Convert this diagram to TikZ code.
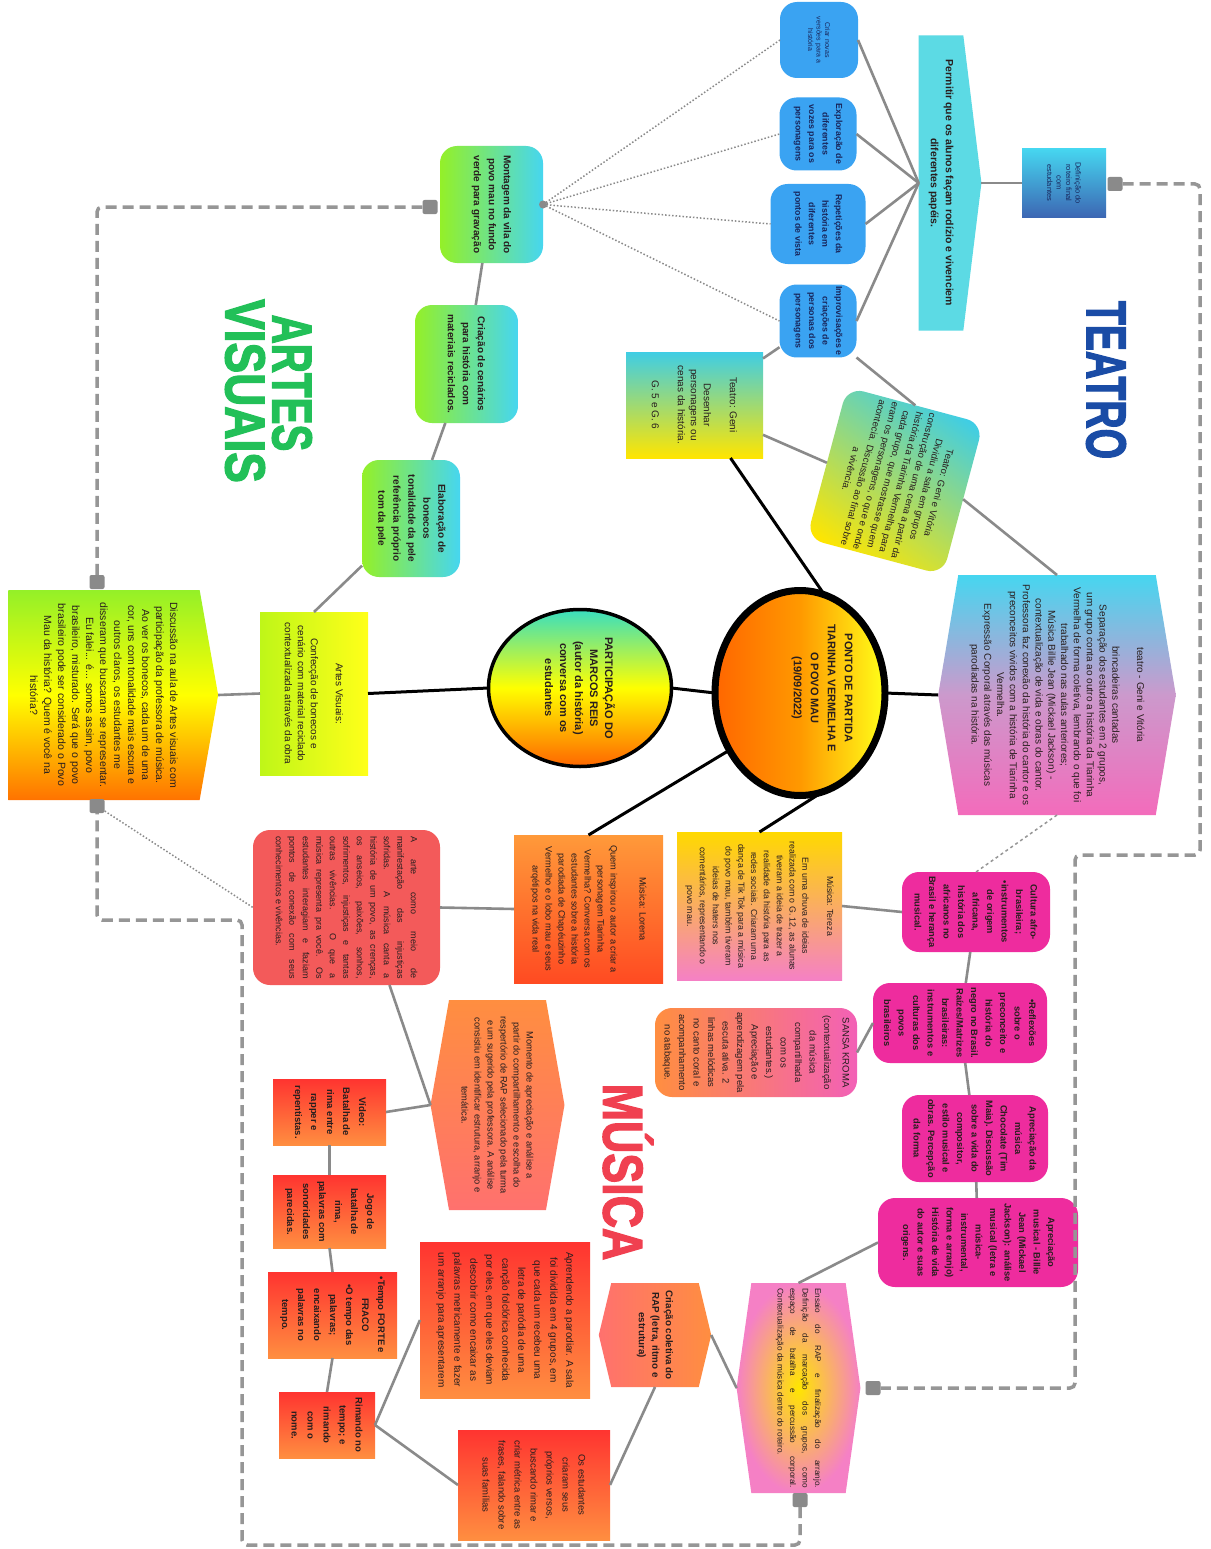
\documentclass[tikz,border=0pt]{standalone}
\usepackage{fontspec}
\setmainfont{Liberation Sans}
\newfontfamily\headfont[FakeBold=2.6]{Liberation Sans}
\usepackage{graphicx}
\usetikzlibrary{shapes.geometric,shapes.symbols}
\definecolor{bubblue}{RGB}{58,163,242}
\definecolor{navytxt}{RGB}{24,38,92}
\definecolor{tealcyan}{RGB}{92,218,228}
\definecolor{avlime}{RGB}{148,240,40}
\definecolor{avaqua}{RGB}{70,214,240}
\definecolor{magent}{RGB}{238,44,158}
\definecolor{hotred}{RGB}{255,52,48}
\definecolor{warmorange}{RGB}{255,142,64}
\definecolor{artered}{RGB}{243,90,90}
\definecolor{lnkgray}{RGB}{138,138,138}
\definecolor{dshgray}{RGB}{150,150,150}
\definecolor{txtdark}{RGB}{40,30,30}
\definecolor{teatroblue}{RGB}{26,76,166}
\definecolor{artesgreen}{RGB}{34,192,88}
\definecolor{musicared}{RGB}{240,64,80}

\begin{document}
\begin{tikzpicture}[x=1pt,y=-1pt,
  rot/.style={rotate=-90,align=center,inner sep=2pt,outer sep=0pt,text=txtdark},
  bluebub/.style={rot,fill=bubblue,rounded corners=17pt,text=navytxt,font=\bfseries\fontsize{8.8}{13.5}\selectfont},
  greenbox/.style={rot,rounded corners=17pt,left color=avlime,right color=avaqua,font=\bfseries\fontsize{10}{15}\selectfont},
  pinkbox/.style={rot,rounded corners=17pt,fill=magent,font=\bfseries\fontsize{9.3}{14.5}\selectfont},
  redbox/.style={rot,top color=hotred,bottom color=warmorange,font=\bfseries\fontsize{9.5}{16}\selectfont},
  notebox/.style={rot,font=\fontsize{9.5}{13}\selectfont},
  hexa/.style={rot,shape=signal,signal to=north and south},
  link/.style={draw=lnkgray,line width=2.6pt},
  blk/.style={draw=black,line width=3pt},
  dotlink/.style={draw=lnkgray,line width=1.5pt,dotted},
  dashlink/.style={draw=dshgray,line width=3.5pt,dash pattern=on 11pt off 6pt,rounded corners=5pt},
  handle/.style={fill=lnkgray,rounded corners=2pt,inner sep=0pt,minimum width=15pt,minimum height=14pt},
  bigtitle/.style={rotate=-90,font=\headfont\bfseries\fontsize{56}{56}\selectfont}]
\fill[white] (0,0) rectangle (1210,1549);
\useasboundingbox (0,0) rectangle (1210,1549);

% Titles
\node[bigtitle,text=teatroblue] (tteatro) at (1106,380) {\scalebox{0.7}[1]{TEATRO}};
\node[bigtitle,text=artesgreen] (tartes) at (292,383) {\scalebox{0.72}[1]{ARTES}};
\node[bigtitle,text=artesgreen] (tvisuais) at (245,391) {\scalebox{0.82}[1]{VISUAIS}};
\node[bigtitle,text=musicared] (tmusica) at (628,1172) {\scalebox{0.8}[1]{MÚSICA}};

% Teatro
\node[bluebub,font=\fontsize{7}{8.5}\selectfont,minimum width=76pt,minimum height=78pt] (criar) at (819,40) {Criar novas\\versões para a\\história};
\node[bluebub,minimum width=73pt,minimum height=77pt] (explor) at (818,134) {Exploração de\\diferentes\\vozes para os\\personagens};
\node[bluebub,minimum width=80pt,minimum height=95pt] (repet) at (818,224) {Repetições da\\história em\\diferentes\\pontos de vista};
\node[bluebub,minimum width=72pt,minimum height=77pt] (improv) at (818,321) {Improvisações e\\criações de\\personas dos\\personagens};
\node[rot,shape=signal,signal to=north,signal pointer angle=166,fill=tealcyan,font=\bfseries\fontsize{10.5}{15}\selectfont,minimum width=295pt,minimum height=60pt] (permitir) at (941,183) {Permitir que os alunos façam rodízio e vivenciem\\diferentes papéis.};
\node[rot,top color=avaqua,bottom color=teatroblue!85,text=navytxt,font=\fontsize{7.5}{9.5}\selectfont,minimum width=68pt,minimum height=84pt] (defrot) at (1064,183) {Definição do\\roteiro final\\com\\estudantes};
\node[hexa,signal pointer angle=161,top color=avaqua,bottom color=magent!70,middle color=violet!40,font=\fontsize{10}{12.8}\selectfont,minimum width=240pt,minimum height=235pt] (teatrogv) at (1057,695) {teatro - Geni e Vitória\\[12pt]brincadeiras cantadas\\Separação dos estudantes em 2 grupos,\\um grupo conta ao outro a história da Tiarinha\\Vermelha de forma coletiva, lembrando o que foi\\trabalhado nas aulas anteriores;\\Música Billie Jean (Mickael Jackson) -\\contextualização de vida e obras do cantor.\\Professora faz conexão da história do cantor e os\\preconceitos vividos com a história de Tiarinha\\Vermelha.\\Expressão Corporal através das músicas\\parodiadas na história.};
\node[notebox,top color=avaqua!90!teal,bottom color=yellow!80!orange,font=\fontsize{10}{13}\selectfont,minimum width=106pt,minimum height=137pt] (teatrodes) at (694.5,405) {Teatro: Geni\\[13pt]Desenhar\\personagens ou\\cenas da história.\\[13pt]G. 5 e G. 6};
\node[notebox,rotate=-15,rounded corners=17pt,top color=avaqua!90!teal,bottom color=yellow!80!orange,shading angle=-35,minimum width=152pt,minimum height=141pt] (teatrovit) at (895,481) {Teatro: Geni e Vitória\\Dividiu a sala em grupos\\construção de uma cena a partir da\\história da Tiarinha Vermelha para\\cada grupo, que mostrasse quem\\eram os personagens, o que e onde\\acontecia. Discussão ao final sobre\\a vivência.};

% Centro
\node[rot,ellipse,draw=black,line width=7pt,left color=orange!80!red,right color=yellow!90!white,middle color=orange!80!yellow,minimum width=205pt,minimum height=170pt] (ponto) at (800,693) {};
\node[rot,font=\bfseries\fontsize{11}{17}\selectfont] (pontotxt) at (822,688) {PONTO DE PARTIDA\\TIARINHA VERMELHA E\\O POVO MAU\\(19/09/2022)};
\node[rot,ellipse,draw=black,line width=3.5pt,top color=avaqua!80!green,bottom color=orange!80!red,middle color=yellow,font=\bfseries\fontsize{11}{15}\selectfont,minimum width=157pt,minimum height=183pt] (partic) at (580,688) {PARTICIPAÇÃO DO\\MARCOS REIS\\(autor da história)\\conversa com os\\estudantes};

% Artes visuais
\node[notebox,left color=avlime!60!yellow,right color=yellow!90!white,font=\fontsize{10}{13}\selectfont,minimum width=163pt,minimum height=108pt] (artesvis) at (314,693.5) {Artes Visuais:\\[12pt]Confecção de bonecos e\\cenário com material reciclado\\contextualizada através da obra};
\node[rot,shape=signal,signal to=north,signal pointer angle=160,top color=avlime,bottom color=orange!90!red,middle color=yellow,font=\fontsize{10.5}{14}\selectfont,minimum width=210pt,minimum height=208pt] (disc) at (104,695) {Discussão na aula de Artes visuais com\\participação da professora de música.\\Ao ver os bonecos, cada um de uma\\cor, uns com tonalidade mais escura e\\outros claros, os estudantes me\\disseram que buscaram se representar.\\Eu falei... é... somos assim, povo\\brasileiro, misturado.  Será que o povo\\brasileiro pode ser considerado o Povo\\Mau da história? Quem é você na\\história?};
\node[greenbox,minimum width=117pt,minimum height=103pt] (montagem) at (491.5,204.5) {Montagem da vila do\\povo mau no fundo\\verde para gravação};
\node[greenbox,minimum width=118pt,minimum height=103pt] (cenarios) at (466.5,364) {Criação de cenários\\para história com\\materiais reciclados.};
\node[greenbox,minimum width=117pt,minimum height=98pt] (bonecos) at (411,518.5) {Elaboração de\\bonecos\\tonalidade da pele\\referência próprio\\tom da pele};

% Musica
\node[notebox,top color=yellow!70!orange,bottom color=magent!60,font=\fontsize{8.8}{12.8}\selectfont,minimum width=148pt,minimum height=165pt] (tereza) at (759.5,906) {Música: Tereza\\[12pt]Em uma chuva de ideias\\realizada com o G. 12, as alunas\\tiveram a ideia de trazer a\\realidade da história para as\\redes sociais. Criaram uma\\dança de Tik Tok para a música\\do povo mau, também tiveram\\ideias de haters nos\\comentários, representando o\\povo mau.};
\node[notebox,top color=warmorange!90!yellow,bottom color=hotred!70!orange,font=\fontsize{9.2}{13}\selectfont,minimum width=148pt,minimum height=149pt] (lorena) at (588.5,909) {Música: Lorena\\[16pt]Quem inspirou o autor a criar a\\personagem Tiarinha\\Vermelha? Conversa com os\\estudantes sobre a história\\parodiada de Chapéuzinho\\Vermelho e o lobo mau e seus\\arqétipos na vida real};
\node[notebox,rounded corners=17pt,fill=artered,align=justify,text width=143pt,font=\fontsize{9}{13.5}\selectfont,minimum width=155pt,minimum height=187pt] (arte) at (346.5,907.5) {A arte como meio de\linebreak manifestação das injustiças\linebreak sofridas. A música canta a\linebreak história de um povo, as crenças,\linebreak os anseios, paixões, sonhos,\linebreak sofrimentos, injustiças e tantas\linebreak outras vivências. O que a\linebreak música representa pra você. Os\linebreak estudantes interagiam e faziam\linebreak pontos de conexão com seus\linebreak conhecimentos e vivências.};
\node[hexa,signal pointer angle=160,top color=warmorange,bottom color=hotred!70!white,font=\fontsize{9.3}{13}\selectfont,minimum width=210pt,minimum height=129pt] (momento) at (497.5,1105) {Momento de apreciação e análise a\\partir do compartilhamento e escolha do\\respertório de RAP selecionado pela turma\\e um sugerido pela professora. A análise\\consistiu em identificar estrutura, arranjo e\\temática.};
\node[redbox,minimum width=66pt,minimum height=113pt] (video) at (329.5,1112) {Vídeo:\\Batalha de\\rima entre\\rapper e\\repentistas.};
\node[redbox,minimum width=73pt,minimum height=113pt] (jogo) at (329.5,1211.5) {Jogo de\\batalha de\\rima,\\palavras com\\sonoridades\\parecidas.};
\node[redbox,minimum width=86pt,minimum height=129pt] (tempo) at (332.5,1315) {•Tempo FORTE e\\FRACO\\•O tempo das\\palavras;\\encaixando\\palavras no\\tempo.};
\node[redbox,minimum width=66pt,minimum height=96pt] (rimando) at (327,1425) {Rimando no\\tempo; e\\rimando\\com o\\nome.};
\node[redbox,font=\fontsize{10}{16}\selectfont,minimum width=156pt,minimum height=170pt] (aprend) at (505,1320) {Aprendendo a parodiar. A sala\\foi dividida em 4 grupos, em\\que cada um recebeu uma\\letra de paródia de uma\\canção folclórica conhecida\\por eles, em que eles deviam\\descobrir como encaixar as\\palavras metricamente e fazer\\um arranjo para apresentarem};
\node[redbox,font=\fontsize{9.5}{16}\selectfont,minimum width=110pt,minimum height=152pt] (osest) at (534,1485) {Os estudantes\\criaram seus\\próprios versos,\\buscando rimar e\\criar métrica entre as\\frases, falando sobre\\suas famílias};
\node[hexa,signal pointer angle=153,left color=hotred!70!white,right color=warmorange,font=\bfseries\fontsize{9.8}{13.5}\selectfont,minimum width=104pt,minimum height=110pt] (coletiva) at (655,1335) {Criação coletiva do\\RAP (letra, ritmo e\\estrutura)};
\node[hexa,signal pointer angle=164,inner color=yellow!80!orange,outer color=magent!60,align=justify,text width=200pt,font=\fontsize{8.2}{12.5}\selectfont,minimum width=210pt,minimum height=123pt] (ensaio) at (798.5,1388) {Ensaio do RAP e finalização do arranjo.\linebreak Definição da marcação dos grupos, como\linebreak espaço de batalha e percussão corporal.\linebreak Contextualização da música dentro do roteiro.};
\node[pinkbox,minimum width=80pt,minimum height=148pt] (cultura) at (976,912) {Cultura afro-\\brasileira;\\•instrumentos\\de origem\\africana,\\história dos\\africanos no\\Brasil e herança\\musical.};
\node[pinkbox,minimum width=80pt,minimum height=174pt] (reflex) at (960,1023) {•Reflexões\\sobre o\\preconceito e\\história do\\negro no Brasil.\\Raízes/Matrizes\\brasileiras:\\instrumentos e\\culturas dos\\povos\\brasileiros};
\node[pinkbox,minimum width=87pt,minimum height=146pt] (chocolate) at (975,1138.5) {Apreciação da\\música\\Chocolate (Tim\\Maia). Discussão\\sobre a vida do\\compositor,\\estilo musical e\\obras. Percepção\\da forma};
\node[pinkbox,minimum width=89pt,minimum height=200pt] (billie) at (978,1242.5) {Apreciação\\musical - Billie\\Jean (Mickael\\Jackson): análise\\musical (letra e\\música-\\instrumental,\\forma e arranjo)\\História de vida\\do autor e suas\\origens.};
\node[notebox,rounded corners=17pt,left color=warmorange,right color=magent!75,font=\fontsize{9.5}{14.5}\selectfont,minimum width=89pt,minimum height=202pt] (sansa) at (756,1052.5) {SANSA KROMA\\[4pt](contextualização\\da música\\compartilhada\\com os\\estudantes.)\\Apreciação e\\aprendizagem pela\\escuta ativa. 2\\linhas melódicas\\no canto coral e\\acompanhamento\\no atabaque.};

% Handles
\node[handle] (h1) at (1115,184) {};
\node[handle] (h2) at (873,1388) {};
\node[handle] (h3) at (800,1500) {};
\node[handle] (h4) at (97,806) {};
\node[handle] (h5) at (97,582) {};
\node[handle] (h6) at (430,207) {};

% Black links
\draw[blk] (ponto.south) -- (partic.north);
\draw[blk] (partic.south) -- (artesvis.north);
\draw[blk] ([xshift=36pt]teatrodes.east) -- (ponto.166);
\draw[blk] (ponto.north) -- (teatrogv.south);
\draw[blk] (ponto.-51) -- (lorena.west);
\draw[blk] (ponto.13) -- (tereza.west);

% Gray links
\draw[link] (permitir.north) -- (defrot);
\foreach \b in {criar,explor,repet,improv}
  \draw[link] (permitir.south) -- (\b.north);
\draw[link] (improv) -- (teatrodes);
\draw[link] (improv.north east) -- (teatrovit.west);
\draw[link] (teatrovit.north) -- (teatrogv.west);
\draw[link] (teatrovit.south) -- (teatrodes);
\draw[link] (disc.north) -- (artesvis.south);
\draw[link] (artesvis.west) -- (bonecos);
\draw[link] (bonecos) -- (cenarios);
\draw[link] (cenarios) -- (montagem);
\draw[link] (lorena.south) -- (arte.north);
\draw[link] (tereza.north) -- (cultura.south);
\draw[link] (cultura) -- (reflex);
\draw[link] (reflex) -- (chocolate);
\draw[link] (chocolate) -- (billie);
\draw[link] (reflex.south) -- (sansa.north);
\draw[link] (billie.south) -- (ensaio.west);
\draw[link] (arte.29) -- (momento.south);
\draw[link] (momento.south) -- (video.north);
\draw[link] (video.east) -- (jogo.west);
\draw[link] (jogo.east) -- (tempo.west);
\draw[link] (tempo.east) -- (rimando.west);
\draw[link] (rimando.north) -- (aprend.south);
\draw[link] (rimando.north) -- (osest.south);
\draw[link] (coletiva.east) -- (osest.north);
\draw[link] (coletiva.north) -- (ensaio.south);

% Dotted and dashed links
\foreach \b in {criar,explor,repet,improv}
  \draw[dotlink] (montagem.north) -- (\b.south);
\fill[lnkgray] (montagem.north) circle (4);
\draw[dotlink] (h4) -- (arte.south);
\draw[draw=dshgray,line width=1.5pt,dashed] (teatrogv.east) -- (cultura.west);
\draw[dashlink] (h1) -- (1200,184) -- (1200,855) -- (1075,855) -- (1075,1388) -- (h2);
\draw[dashlink] (h3) -- (800,1545) -- (242,1545) -- (242,920) -- (97,920) -- (h4);
\draw[dashlink] (h5) -- (97,207) -- (h6);
\end{tikzpicture}
\end{document}
